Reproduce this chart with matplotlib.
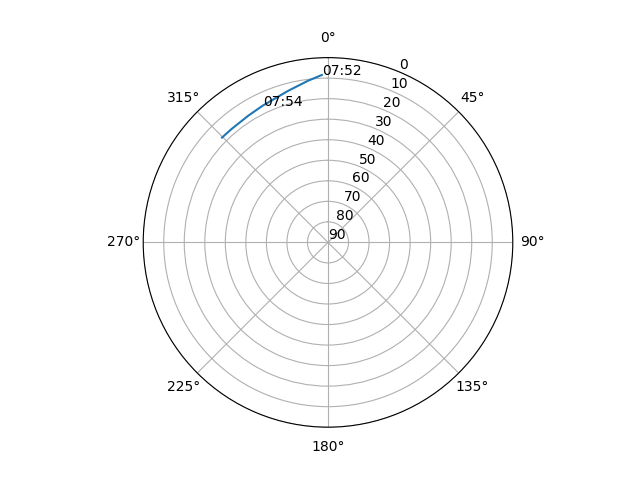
import numpy as np
import matplotlib
matplotlib.use("Agg")
import matplotlib.pyplot as plt

# satellite track (azimuth deg, elevation deg)
azimuth = [357.9, 352.9, 345.2, 336.8, 334.5, 327.7, 319.6, 314.7]
elevation = [8.4, 10.7, 13.7, 15.9, 16.2, 17.1, 17.5, 17.4]
time_labels = ["07:52", "", "", "", "07:54", "", "", ""]

fig = plt.figure(figsize=(6.4, 4.8), dpi=100)
ax = fig.add_subplot(projection="polar")
ax.set_theta_zero_location("N")
ax.set_theta_direction(-1)

ax.plot(np.radians(azimuth), elevation)
for az, el, lab in zip(azimuth, elevation, time_labels):
    if lab:
        ax.text(np.radians(az), el, lab)

ax.set_rlim(90, 0)
ax.set_yticks(range(0, 91, 10))

fig.savefig("out.png", dpi=100)
